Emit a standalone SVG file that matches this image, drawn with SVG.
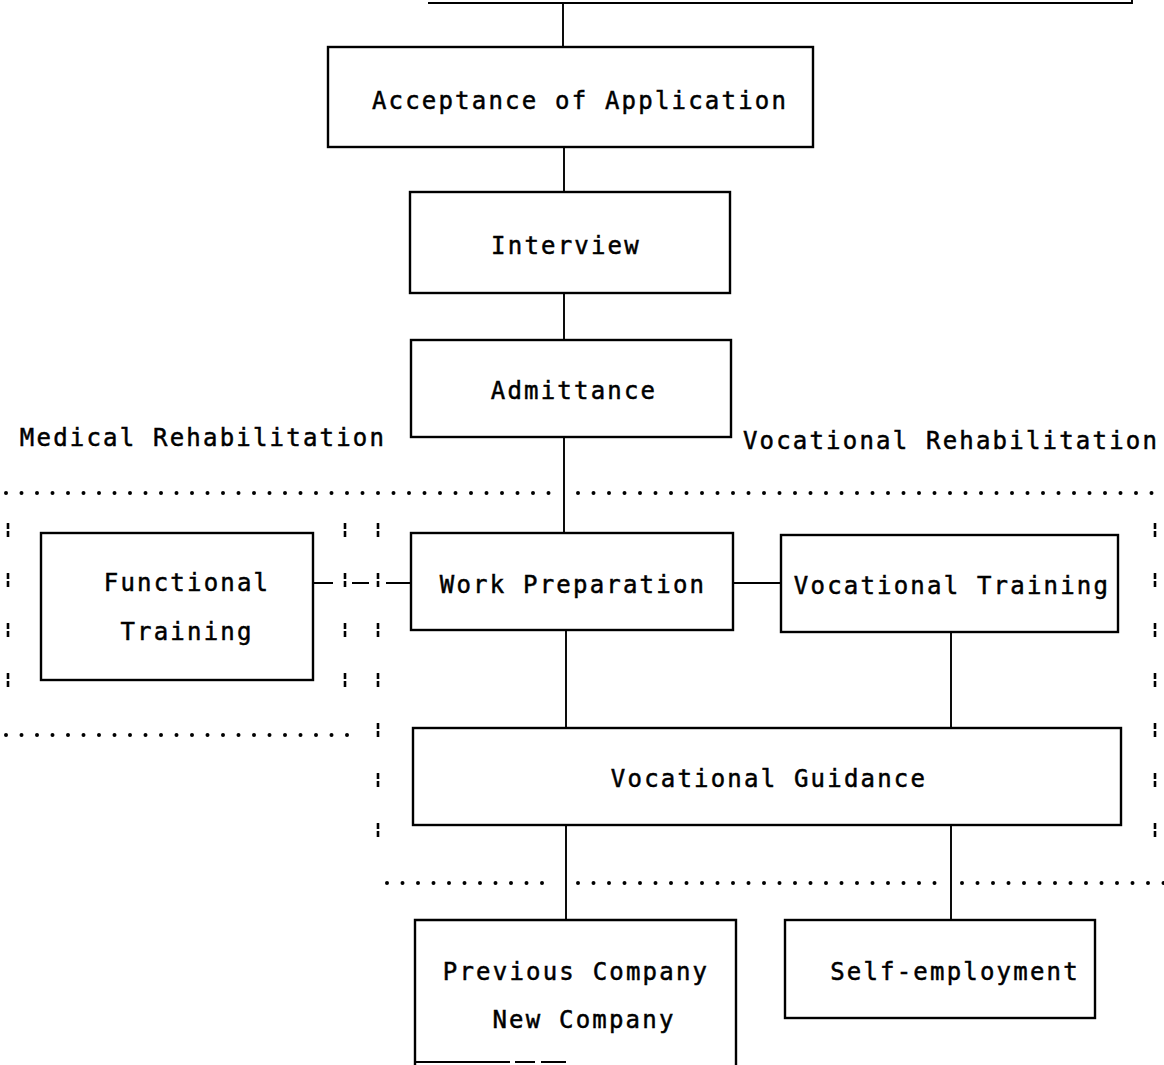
<svg xmlns="http://www.w3.org/2000/svg" width="1164" height="1065" viewBox="0 0 1164 1065">
  <defs>
    <style>
      .box { fill: #fff; stroke: #000; stroke-width: 2.4; }
      .wire { fill: none; stroke: #000; stroke-width: 1.9; }
      .dots { fill: none; stroke: #000; stroke-width: 4; stroke-linecap: round; stroke-dasharray: 0 15.5; }
      .bars { fill: none; stroke: #000; stroke-width: 2.6; stroke-dasharray: 6 2 6 36; }
      .lbl { font-family: "DejaVu Sans Mono", "Liberation Mono", monospace; font-size: 24px; letter-spacing: 2.2px; fill: #000; stroke: #000; stroke-width: 0.5; text-anchor: middle; }
    </style>
  </defs>
  <rect width="1164" height="1065" fill="#fff"/>

  <!-- region boundaries: dotted rows and broken-bar columns -->
  <g id="boundaries">
    <path class="dots" d="M6 493 H556 M578 493 H1164"/>
    <path class="dots" d="M6 735 H352"/>
    <path class="dots" d="M387 883 H556 M578 883 H940 M962 883 H1164"/>
    <path class="bars" d="M8 523 V700"/>
    <path class="bars" d="M345 523 V700"/>
    <path class="bars" d="M378 523 V845"/>
    <path class="bars" d="M1155 523 V845"/>
  </g>

  <!-- connectors -->
  <g id="connectors">
    <path class="wire" d="M428 3 H1132 V0"/>
    <path class="wire" d="M563 3 V47"/>
    <path class="wire" d="M564 147 V192"/>
    <path class="wire" d="M564 293 V340"/>
    <path class="wire" d="M564 437 V533"/>
    <path class="wire" d="M733 583 H781"/>
    <path class="wire" d="M313 583 H333 M352 583 H369 M386 583 H411"/>
    <path class="wire" d="M566 630 V728"/>
    <path class="wire" d="M951 632 V728"/>
    <path class="wire" d="M566 825 V920"/>
    <path class="wire" d="M951 825 V920"/>
  </g>

  <g id="acceptance">
    <rect class="box" x="328" y="47" width="485" height="100"/>
    <text class="lbl" x="580" y="109">Acceptance of Application</text>
  </g>

  <g id="interview">
    <rect class="box" x="410" y="192" width="320" height="101"/>
    <text class="lbl" x="566" y="254">Interview</text>
  </g>

  <g id="admittance">
    <rect class="box" x="411" y="340" width="320" height="97"/>
    <text class="lbl" x="574" y="399">Admittance</text>
  </g>

  <g id="medical-label">
    <text class="lbl" x="203" y="446">Medical Rehabilitation</text>
  </g>

  <g id="vocational-label">
    <text class="lbl" x="951" y="449">Vocational Rehabilitation</text>
  </g>

  <g id="functional-training">
    <rect class="box" x="41" y="533" width="272" height="147"/>
    <text class="lbl" x="187" y="591">Functional</text>
    <text class="lbl" x="187" y="640">Training</text>
  </g>

  <g id="work-preparation">
    <rect class="box" x="411" y="533" width="322" height="97"/>
    <text class="lbl" x="573" y="593">Work Preparation</text>
  </g>

  <g id="vocational-training">
    <rect class="box" x="781" y="535" width="337" height="97"/>
    <text class="lbl" x="952" y="594">Vocational Training</text>
  </g>

  <g id="vocational-guidance">
    <rect class="box" x="413" y="728" width="708" height="97"/>
    <text class="lbl" x="769" y="787">Vocational Guidance</text>
  </g>

  <g id="company">
    <path class="box" d="M415 1065 V920 H736 V1065"/>
    <path class="wire" d="M415 1062 H510 M515 1062 H535 M541 1062 H566" stroke-width="2.4"/>
    <text class="lbl" x="576" y="980">Previous Company</text>
    <text class="lbl" x="584" y="1028">New Company</text>
  </g>

  <g id="self-employment">
    <rect class="box" x="785" y="920" width="310" height="98"/>
    <text class="lbl" x="955" y="980">Self-employment</text>
  </g>
</svg>
